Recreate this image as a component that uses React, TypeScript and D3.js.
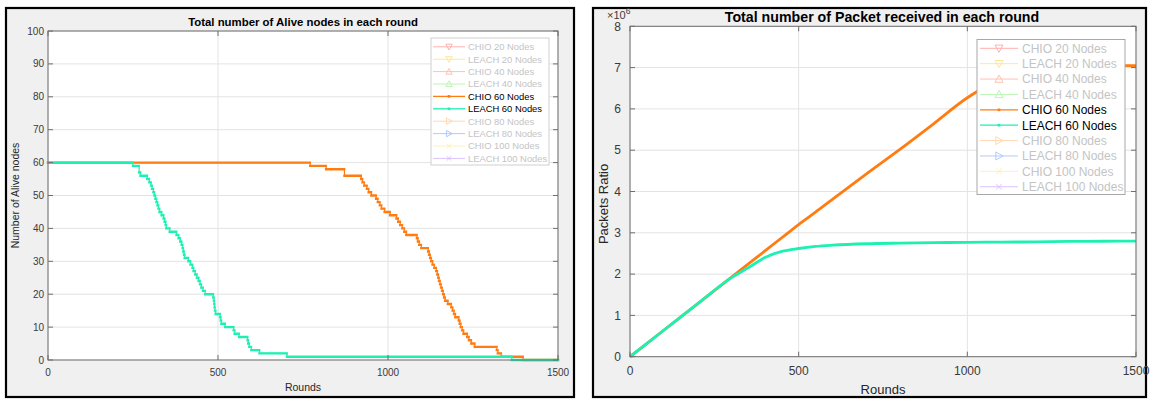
import React from 'react';
import * as d3 from 'd3';

// Axis ticks
const roundTicks = [0, 500, 1000, 1500];
const aliveTicks = [0, 10, 20, 30, 40, 50, 60, 70, 80, 90, 100];
const packetTicks = [0, 1, 2, 3, 4, 5, 6, 7, 8];

// Legend entries (only the 60-node runs are highlighted)
const legendLabels = [
  'CHIO 20 Nodes', 'LEACH 20 Nodes', 'CHIO 40 Nodes', 'LEACH 40 Nodes',
  'CHIO 60 Nodes', 'LEACH 60 Nodes', 'CHIO 80 Nodes', 'LEACH 80 Nodes',
  'CHIO 100 Nodes', 'LEACH 100 Nodes',
];
const legendColors = [
  '#ffb0b0', '#fbe7a0', '#ffc2ad', '#bdf5b4',
  '#ff7c12', '#1ef0b2', '#ffd9b3', '#b3c9ff',
  '#fff0b8', '#dcc2ff',
];
const legendMarkers = ['down', 'down', 'up', 'up', 'dot', 'dot', 'right', 'right', 'x', 'x'];
const legendActive = [false, false, false, false, true, true, false, false, false, false];

// Alive nodes per round (step changes: round at which count becomes value)
const chio60AliveRounds = [
  0, 771, 818, 872, 921, 925, 930, 938, 943, 951, 965, 970, 976, 981, 990, 1006,
  1025, 1030, 1036, 1042, 1048, 1054, 1085, 1088, 1092, 1098, 1118, 1121, 1124, 1127,
  1131, 1136, 1142, 1145, 1148, 1150, 1153, 1156, 1159, 1162, 1165, 1168, 1176, 1186,
  1190, 1194, 1198, 1208, 1211, 1214, 1218, 1222, 1233, 1238, 1245, 1255, 1320, 1323,
  1333, 1397,
];
const chio60AliveValues = [
  60, 59, 58, 56, 55, 54, 53, 52, 51, 50, 49, 48, 47, 46, 45, 44,
  43, 42, 41, 40, 39, 38, 37, 36, 35, 34, 33, 32, 31, 30,
  29, 28, 27, 26, 25, 24, 23, 22, 21, 20, 19, 18, 17, 16,
  15, 14, 13, 12, 11, 10, 9, 8, 7, 6, 5, 4, 3, 2,
  1, 0,
];
const leach60AliveRounds = [
  0, 250, 268, 272, 292, 298, 303, 306, 310, 313, 316, 319, 322, 325, 328, 334,
  340, 343, 346, 348, 358, 378, 384, 389, 393, 396, 398, 400, 402, 413, 419, 425,
  428, 433, 438, 443, 447, 451, 456, 462, 486, 488, 489, 490, 491, 493, 506, 508,
  510, 521, 546, 549, 562, 587, 589, 592, 598, 622, 703, 1364,
];
const leach60AliveValues = [
  60, 59, 57, 56, 55, 54, 53, 52, 51, 50, 49, 48, 47, 46, 45, 44,
  43, 42, 41, 40, 39, 38, 37, 36, 35, 34, 33, 32, 31, 30, 29, 28,
  27, 26, 25, 24, 23, 22, 21, 20, 19, 18, 17, 16, 15, 14, 13, 12,
  11, 10, 9, 8, 7, 6, 5, 4, 3, 2, 1, 0,
];

// Cumulative packets received (x10^6)
const packetRounds = [0, 100, 200, 300, 350, 400, 450, 500, 550, 600, 700, 800, 900, 1000, 1100, 1200, 1300, 1400, 1500];
const chio60Packets = [0, 0.64, 1.28, 1.92, 2.24, 2.56, 2.88, 3.2, 3.5, 3.81, 4.42, 5.02, 5.64, 6.27, 6.72, 6.95, 7.03, 7.05, 7.05];
const leach60Packets = [0, 0.64, 1.28, 1.91, 2.15, 2.4, 2.55, 2.62, 2.67, 2.7, 2.735, 2.75, 2.76, 2.77, 2.775, 2.78, 2.79, 2.795, 2.8];

const FONT = '"Liberation Sans", Arial, Helvetica, sans-serif';
const ORANGE = '#ff7c12';
const TEAL = '#1ef0b2';

function stepPoints(rounds: number[], values: number[], end: number): [number, number][] {
  const pts: [number, number][] = rounds.map((r, i) => [r, values[i]]);
  pts.push([end, values[values.length - 1]]);
  return pts;
}

function valueAt(rounds: number[], values: number[], r: number): number {
  let v = values[0];
  for (let i = 0; i < rounds.length; i++) {
    if (rounds[i] <= r) v = values[i];
    else break;
  }
  return v;
}

function Marker({ kind, cx, cy, color, size }: { kind: string; cx: number; cy: number; color: string; size: number }) {
  const s = size;
  if (kind === 'down') {
    return <path d={`M${cx - s},${cy - s * 0.8}L${cx + s},${cy - s * 0.8}L${cx},${cy + s}Z`} fill="none" stroke={color} strokeWidth={1} />;
  }
  if (kind === 'up') {
    return <path d={`M${cx - s},${cy + s * 0.8}L${cx + s},${cy + s * 0.8}L${cx},${cy - s}Z`} fill="none" stroke={color} strokeWidth={1} />;
  }
  if (kind === 'right') {
    return <path d={`M${cx - s * 0.8},${cy - s}L${cx - s * 0.8},${cy + s}L${cx + s},${cy}Z`} fill="none" stroke={color} strokeWidth={1} />;
  }
  if (kind === 'x') {
    const k = s * 0.7;
    return <path d={`M${cx - k},${cy - k}L${cx + k},${cy + k}M${cx - k},${cy + k}L${cx + k},${cy - k}`} fill="none" stroke={color} strokeWidth={1} />;
  }
  return <rect x={cx - 1.3} y={cy - 1.3} width={2.6} height={2.6} fill={color} />;
}

function Legend({ x, y, w, h, rowTop, rowH, lineX0, lineX1, textX, fontSize, markerSize, borderColor }: any) {
  return (
    <g>
      <rect x={x} y={y} width={w} height={h} fill="#fff" stroke={borderColor} strokeWidth={1} />
      {legendLabels.map((label, i) => {
        const cy = rowTop + i * rowH;
        const color = legendColors[i];
        return (
          <g key={label}>
            <line x1={lineX0} x2={lineX1} y1={cy} y2={cy} stroke={color} strokeWidth={legendActive[i] ? 1.3 : 1} />
            <Marker kind={legendMarkers[i]} cx={(lineX0 + lineX1) / 2} cy={cy} color={color} size={markerSize} />
            <text x={textX} y={cy} dy="0.36em" fontSize={fontSize} fontFamily={FONT}
              fill={legendActive[i] ? '#000' : '#c4c4c4'}>{label}</text>
          </g>
        );
      })}
    </g>
  );
}

function AxesGrid({ x, y, yTicks }: any) {
  const [x0, x1] = x.range();
  const [yb, yt] = y.range();
  return (
    <g>
      <rect x={x0} y={yt} width={x1 - x0} height={yb - yt} fill="#fff" />
      {roundTicks.map((t: number) => (
        <line key={'gx' + t} x1={x(t)} x2={x(t)} y1={yt} y2={yb} stroke="#e3e3e3" strokeWidth={1} />
      ))}
      {yTicks.map((t: number) => (
        <line key={'gy' + t} x1={x0} x2={x1} y1={y(t)} y2={y(t)} stroke="#e3e3e3" strokeWidth={1} />
      ))}
    </g>
  );
}

function AxesBox({ x, y, yTicks, xLabelY, yLabelX, fontSize, tickLen }: any) {
  const [x0, x1] = x.range();
  const [yb, yt] = y.range();
  return (
    <g fontFamily={FONT} fontSize={fontSize} fill="#3a3a3a">
      <rect x={x0} y={yt} width={x1 - x0} height={yb - yt} fill="none" stroke="#6e6e6e" strokeWidth={1} />
      {roundTicks.map((t: number) => (
        <g key={'tx' + t}>
          <line x1={x(t)} x2={x(t)} y1={yb} y2={yb - tickLen} stroke="#6e6e6e" />
          <line x1={x(t)} x2={x(t)} y1={yt} y2={yt + tickLen} stroke="#6e6e6e" />
          <text x={x(t)} y={xLabelY} textAnchor="middle">{t}</text>
        </g>
      ))}
      {yTicks.map((t: number) => (
        <g key={'ty' + t}>
          <line x1={x0} x2={x0 + tickLen} y1={y(t)} y2={y(t)} stroke="#6e6e6e" />
          <line x1={x1} x2={x1 - tickLen} y1={y(t)} y2={y(t)} stroke="#6e6e6e" />
          <text x={yLabelX} y={y(t)} dy="0.35em" textAnchor="end">{t}</text>
        </g>
      ))}
    </g>
  );
}

// One small square per round, like MATLAB's '.' marker on every sample
function markerPath(rounds: number[], values: number[], x: any, y: any, half: number): string {
  let d = '';
  for (let r = 0; r <= 1500; r++) {
    const v = valueAt(rounds, values, r);
    const px = x(r);
    const py = y(v);
    d += `M${(px - half).toFixed(2)},${(py - half).toFixed(2)}h${half * 2}v${half * 2}h${-half * 2}z`;
  }
  return d;
}

function AliveChart() {
  const x = d3.scaleLinear().domain([0, 1500]).range([48, 558]);
  const y = d3.scaleLinear().domain([0, 100]).range([360, 31]);
  const step = d3.line<[number, number]>().x(d => x(d[0])).y(d => y(d[1])).curve(d3.curveStepAfter);
  const chio = stepPoints(chio60AliveRounds, chio60AliveValues, 1500);
  const leach = stepPoints(leach60AliveRounds, leach60AliveValues, 1500);
  return (
    <g>
      <rect x={6} y={8} width={568} height={389} fill="#f0f0f0" stroke="#000" strokeWidth={2.2} />
      <AxesGrid x={x} y={y} yTicks={aliveTicks} />
      <g clipPath="url(#clipAlive)">
        <path d={step(chio) || ''} fill="none" stroke={ORANGE} strokeWidth={1.2} />
        <path d={markerPath(chio60AliveRounds, chio60AliveValues, x, y, 1.2)} fill={ORANGE} />
        <path d={step(leach) || ''} fill="none" stroke={TEAL} strokeWidth={1.2} />
        <path d={markerPath(leach60AliveRounds, leach60AliveValues, x, y, 1.2)} fill={TEAL} />
      </g>
      <AxesBox x={x} y={y} yTicks={aliveTicks} xLabelY={376} yLabelX={44} fontSize={10} tickLen={5} />
      <Legend x={431} y={38} w={118} h={127} rowTop={46.8} rowH={12.4} lineX0={433} lineX1={465}
        textX={468} fontSize={9.4} markerSize={3.2} borderColor="#d0d0d0" />
      <text x={303} y={26} textAnchor="middle" fontFamily={FONT} fontSize={11.4} fontWeight="bold" fill="#000">
        Total number of Alive nodes in each round
      </text>
      <text x={303} y={391} textAnchor="middle" fontFamily={FONT} fontSize={10.5} fill="#262626">Rounds</text>
      <text transform="translate(19,195.5) rotate(-90)" textAnchor="middle" fontFamily={FONT} fontSize={10.5} fill="#262626">
        Number of Alive nodes
      </text>
    </g>
  );
}

function PacketChart() {
  const x = d3.scaleLinear().domain([0, 1500]).range([630, 1136]);
  const y = d3.scaleLinear().domain([0, 8]).range([356.7, 26.3]);
  const line = d3.line<number>().x((_, i) => x(packetRounds[i])).y(d => y(d)).curve(d3.curveMonotoneX);
  return (
    <g>
      <rect x={593} y={8} width={553} height={389} fill="#f0f0f0" stroke="#000" strokeWidth={2.2} />
      <AxesGrid x={x} y={y} yTicks={packetTicks} />
      <g clipPath="url(#clipPacket)">
        <path d={line(chio60Packets) || ''} fill="none" stroke={ORANGE} strokeWidth={2.8} />
        <path d={line(leach60Packets) || ''} fill="none" stroke={TEAL} strokeWidth={2.8} />
      </g>
      <AxesBox x={x} y={y} yTicks={packetTicks} xLabelY={375} yLabelX={621} fontSize={12} tickLen={5} />
      <Legend x={977} y={39.5} w={148} h={155} rowTop={48.3} rowH={15.38} lineX0={980} lineX1={1018}
        textX={1022} fontSize={12} markerSize={4} borderColor="#a8a8a8" />
      <text x={882} y={22} textAnchor="middle" fontFamily={FONT} fontSize={14.2} fontWeight="bold" fill="#000">
        Total number of Packet received in each round
      </text>
      <text x={607} y={18.5} fontFamily={FONT} fontSize={11} fill="#3a3a3a">
        ×10<tspan fontSize={8.5} dy={-5}>6</tspan>
      </text>
      <text x={883} y={394} textAnchor="middle" fontFamily={FONT} fontSize={13} fill="#262626">Rounds</text>
      <text transform="translate(608,204) rotate(-90)" textAnchor="middle" fontFamily={FONT} fontSize={13} fill="#262626">
        Packets Ratio
      </text>
    </g>
  );
}

export default function App() {
  return (
    <div style={{ position: 'absolute', left: 0, top: 0 }}>
      <svg width={1151} height={399} viewBox="0 0 1151 399" style={{ display: 'block', background: '#fff' }}>
        <defs>
          <clipPath id="clipAlive"><rect x={46} y={29} width={514} height={334} /></clipPath>
          <clipPath id="clipPacket"><rect x={629} y={25} width={508} height={334} /></clipPath>
        </defs>
        <AliveChart />
        <PacketChart />
      </svg>
    </div>
  );
}
